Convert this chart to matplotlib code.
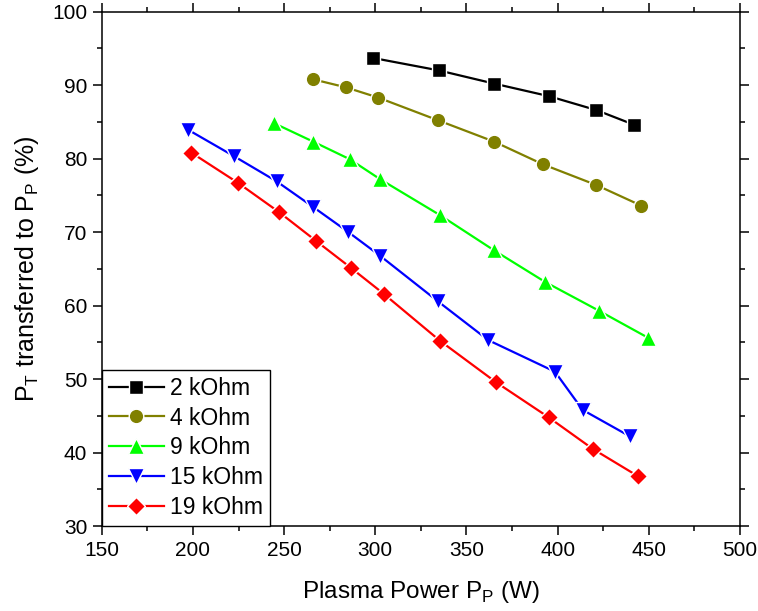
import numpy as np
import matplotlib
matplotlib.use('Agg')
import matplotlib.pyplot as plt
from matplotlib.ticker import MultipleLocator

plt.rcParams['font.family'] = ['Liberation Sans', 'DejaVu Sans']
plt.rcParams['mathtext.fontset'] = 'custom'
plt.rcParams['mathtext.rm'] = 'Liberation Sans'

# data
labels = ['2 kOhm', '4 kOhm', '9 kOhm', '15 kOhm', '19 kOhm']

x_2k = [298.6, 334.8, 365.2, 395.1, 421.2, 441.9]
y_2k = [93.7, 92.0, 90.2, 88.5, 86.6, 84.6]

x_4k = [265.7, 283.8, 301.6, 334.5, 365.2, 392.1, 421.2, 445.8]
y_4k = [90.8, 89.7, 88.3, 85.2, 82.3, 79.2, 76.4, 73.6]

x_9k = [244.6, 266.0, 286.1, 302.6, 335.5, 365.2, 393.2, 422.6, 449.7]
y_9k = [84.8, 82.3, 79.9, 77.2, 72.3, 67.5, 63.2, 59.3, 55.6]

x_15k = [197.5, 222.7, 245.9, 266.0, 285.2, 302.5, 334.2, 361.9, 398.5, 413.7, 439.6]
y_15k = [83.9, 80.3, 76.9, 73.4, 70.0, 66.8, 60.6, 55.3, 51.0, 45.8, 42.2]

x_19k = [199.2, 224.7, 247.3, 267.5, 286.8, 304.6, 335.5, 366.0, 395.0, 419.2, 443.9]
y_19k = [80.8, 76.7, 72.7, 68.8, 65.1, 61.6, 55.2, 49.6, 44.8, 40.5, 36.8]

colors = ['black', '#808000', '#00ff00', '#0000ff', '#ff0000']
markers = ['s', 'o', '^', 'v', 'D']
msizes = [9.5, 10.5, 11.5, 11.5, 9.5]

fig = plt.figure(figsize=(7.58, 6.11), dpi=100)
ax = fig.add_axes([0.1342, 0.1391, 0.9763 - 0.1342, 0.981 - 0.1391])

series = [(x_2k, y_2k), (x_4k, y_4k), (x_9k, y_9k), (x_15k, y_15k), (x_19k, y_19k)]
for i, (xs, ys) in enumerate(series):
    ax.plot(xs, ys, color=colors[i], lw=1.6, marker=markers[i], ms=msizes[i],
            mfc=colors[i], mec='white', mew=1.0, label=labels[i])

ax.set_xlim(150, 500)
ax.set_ylim(30, 100)
ax.xaxis.set_major_locator(MultipleLocator(50))
ax.xaxis.set_minor_locator(MultipleLocator(25))
ax.yaxis.set_major_locator(MultipleLocator(10))
ax.yaxis.set_minor_locator(MultipleLocator(5))

ax.tick_params(which='both', direction='out', top=True, right=True,
               labelsize=15, width=1.1, color='black')
ax.tick_params(which='major', length=6.5, pad=4)
ax.tick_params(which='minor', length=3.5)
for sp in ax.spines.values():
    sp.set_linewidth(1.1)

ax.set_xlabel(r'Plasma Power P$_{\mathrm{ P}}$ (W)', fontsize=17.5, labelpad=14)
ax.set_ylabel(r'P$_{\mathrm{T}}$ transferred to P$_{\mathrm{ P}}$ (%)', fontsize=18, labelpad=8)

leg = ax.legend(loc='lower left', fontsize=16.5, frameon=True, fancybox=False,
                edgecolor='black', borderaxespad=0, handlelength=2.4,
                labelspacing=0.3, borderpad=0.3, handletextpad=0.3)
leg.get_frame().set_linewidth(1.0)
leg.get_frame().set_alpha(1)

plt.savefig('out.png', dpi=100)
